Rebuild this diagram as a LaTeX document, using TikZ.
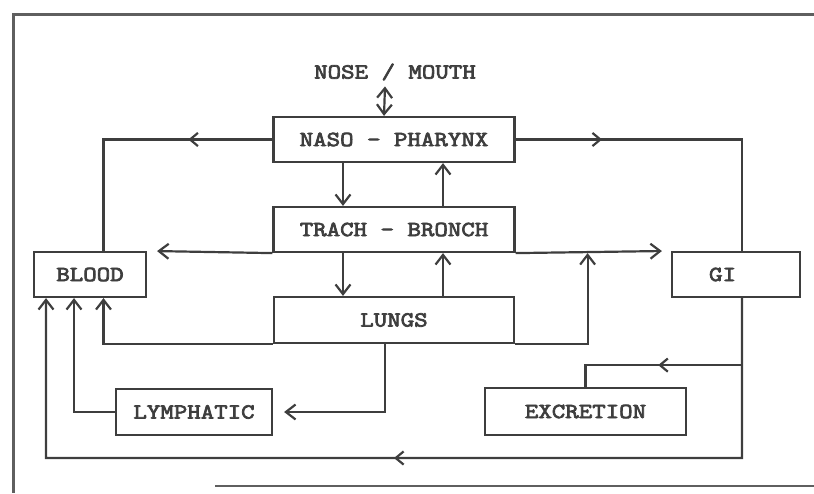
\documentclass[tikz,border=0pt]{standalone}
\usepackage{fontspec}
\newfontfamily\typerfont{Latin Modern Mono}[FakeStretch=1.22, FakeBold=3.5]
\usepackage{tikz}
\usetikzlibrary{arrows.meta,decorations.markings}
\usepackage{xcolor}
\definecolor{inkgray}{RGB}{62,62,62}
\definecolor{framegray}{RGB}{95,95,95}

\begin{document}
\begin{tikzpicture}[
    box/.style={rectangle, draw=inkgray, line width=1.25pt, text=inkgray,
        font=\typerfont\fontsize{12.2}{14}\selectfont,
        minimum height=0.9cm, inner sep=0pt},
    wire/.style={draw=inkgray, line width=1.25pt},
    arrow/.style={wire, -{Straight Barb[length=5.5pt, width=8.5pt]}},
    chev/.style={postaction={decorate}, decoration={markings,
        mark=at position #1 with {\arrow[inkgray, line width=1.25pt]{Straight Barb[length=4.5pt, width=7.5pt]}}}}
]
    \useasboundingbox (0,0) rectangle (16.28,9.86);
    % page frame
    \draw[framegray, line width=1.6pt] (16.28,9.57) -- (0.27,9.57) -- (0.27,0);
    \draw[framegray, line width=1.6pt] (4.3,0.14) -- (16.28,0.14);

    \node[box, draw=none, minimum height=0pt] (nose) at (7.90,8.42) {NOSE / MOUTH};
    \node[box, minimum width=4.82cm] (naso) at (7.88,7.07) {NASO - PHARYNX};
    \node[box, minimum width=4.82cm] (trach) at (7.88,5.27) {TRACH - BRONCH};
    \node[box, minimum width=4.80cm, minimum height=0.92cm] (lungs) at (7.88,3.46) {LUNGS};
    \node[box, minimum width=2.24cm] (blood) at (1.80,4.37) {BLOOD};
    \node[box, minimum width=2.56cm] (gi) at (14.72,4.37) {GI\phantom{MM}};
    \node[box, minimum width=3.12cm, minimum height=0.92cm] (lymph) at (3.88,1.62) {LYMPHATIC};
    \node[box, minimum width=4.02cm, minimum height=0.94cm] (excr) at (11.71,1.63) {EXCRETION};

    \path ([xshift=1.2mm]gi.south) ++(0,-1.34) coordinate (split);
    \coordinate (ret) at (0.92,0.70);

    \draw[wire, {Straight Barb[length=5.5pt, width=8.5pt]}-{Straight Barb[length=5.5pt, width=8.5pt]}]
        ([xshift=-2mm,yshift=-1mm]nose.south) -- ([xshift=-2mm]naso.north);
    \draw[wire, chev=0.30] (naso.west) -| ([xshift=2.7mm]blood.north);
    \draw[wire, chev=0.256] (naso.east) -| ([xshift=1.2mm]gi.north);
    \draw[arrow] ([xshift=-10.2mm]naso.south) -- ([xshift=-10.2mm]trach.north);
    \draw[arrow] ([xshift=9.8mm]trach.north) -- ([xshift=9.8mm]naso.south);
    \draw[arrow, shorten >=2mm] (trach.south west) -- (blood.north east);
    \draw[arrow, shorten >=1.8mm] (trach.south east) -- (gi.north west);
    \draw[arrow] ([xshift=-10.2mm]trach.south) -- ([xshift=-10.2mm]lungs.north);
    \draw[arrow] ([xshift=9.8mm]lungs.north) -- ([xshift=9.8mm]trach.south);
    \draw[arrow] (lungs.south west) -| ([xshift=2.7mm]blood.south);
    \draw[arrow] (lungs.south east) -| ([xshift=14.4mm]trach.south east);
    \draw[arrow, shorten >=2.2mm] ([xshift=-1.8mm]lungs.south) |- (lymph.east);
    \draw[arrow] (lymph.west) -| ([xshift=-3.2mm]blood.south);
    \draw[arrow, chev=0.5] ([xshift=1.2mm]gi.south) |- (ret) -- ([xshift=-8.8mm]blood.south);
    \draw[wire, chev=0.47] (split) -| (excr.north);
\end{tikzpicture}
\end{document}
